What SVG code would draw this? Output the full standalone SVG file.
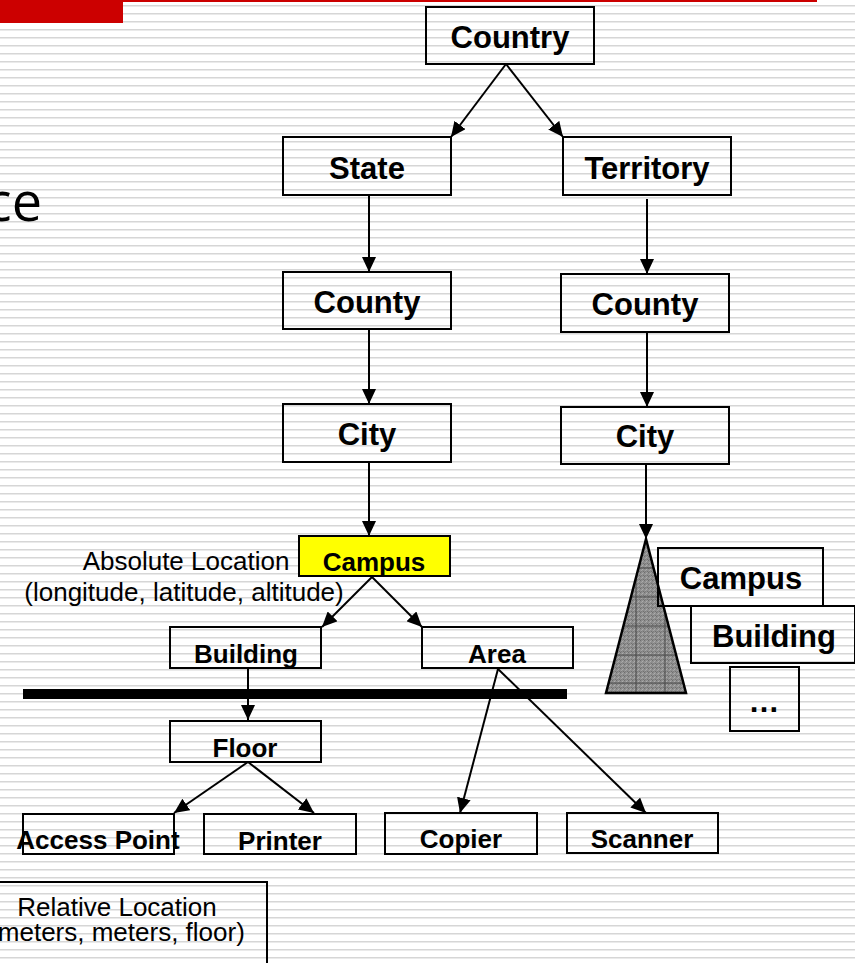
<svg xmlns="http://www.w3.org/2000/svg" width="855" height="963" viewBox="0 0 855 963">
  <defs>
    <!-- striped slide background -->
    <pattern id="stripes" patternUnits="userSpaceOnUse" x="0" y="0" width="8" height="8">
      <rect x="0" y="0" width="8" height="8" fill="#ffffff"/>
      <rect x="0" y="5" width="8" height="1" fill="#d6d6d6"/>
      <rect x="0" y="6" width="8" height="1" fill="#eaeaea"/>
    </pattern>
    <!-- stippled grey fill for the cone -->
    <pattern id="stipple" patternUnits="userSpaceOnUse" x="0" y="0" width="4" height="4">
      <rect width="4" height="4" fill="#8e8e8e"/>
      <rect x="0" y="0" width="1" height="1" fill="#6e6e6e"/>
      <rect x="2" y="1" width="1" height="1" fill="#adadad"/>
      <rect x="1" y="2" width="1" height="1" fill="#a4a4a4"/>
      <rect x="3" y="3" width="1" height="1" fill="#707070"/>
      <rect x="3" y="0" width="1" height="1" fill="#9c9c9c"/>
      <rect x="1" y="3" width="1" height="1" fill="#7c7c7c"/>
    </pattern>
    <clipPath id="coneClip">
      <polygon points="646,539 606,693 686,693"/>
    </clipPath>
    <marker id="arrow" markerUnits="userSpaceOnUse" markerWidth="15" markerHeight="14" refX="15" refY="7" orient="auto">
      <path d="M0,0 L15,7 L0,14 Z" fill="#000"/>
    </marker>
    <style>
      .box { fill: none; stroke: #000; stroke-width: 2; }
      .hl { fill: #ffff00; stroke: #000; stroke-width: 2; }
      .lbl { font-family: "Liberation Sans", Arial, sans-serif; font-weight: bold; text-anchor: middle; fill: #000; }
      .big { font-size: 31px; }
      .small { font-size: 26px; }
      .note { font-family: "Liberation Sans", Arial, sans-serif; font-size: 26px; text-anchor: middle; fill: #000; }
      .conn line { stroke: #000; stroke-width: 2; marker-end: url(#arrow); }
    </style>
  </defs>

  <!-- background and slide decoration -->
  <rect x="0" y="0" width="855" height="963" fill="url(#stripes)"/>
  <rect x="0" y="0" width="123" height="23" fill="#cc0000"/>
  <rect x="123" y="0" width="694" height="2" fill="#cc0000"/>
  <text x="42" y="221" font-family="Open Sans, sans-serif" font-size="54" text-anchor="end" fill="#000">ce</text>

  <!-- divider between absolute and relative levels -->
  <rect x="23" y="689" width="544" height="10" fill="#000"/>

  <!-- cone standing for the lower levels of the territory branch -->
  <g id="cone">
    <polygon points="646,539 606,693 686,693" fill="url(#stipple)"/>
    <g clip-path="url(#coneClip)" stroke="#4a4a4a" stroke-width="1">
      <line x1="600" y1="568" x2="690" y2="568"/>
      <line x1="600" y1="597" x2="690" y2="597"/>
      <line x1="600" y1="626" x2="690" y2="626"/>
      <line x1="600" y1="655" x2="690" y2="655"/>
      <line x1="600" y1="683" x2="690" y2="683"/>
      <line x1="636" y1="539" x2="636" y2="693"/>
      <line x1="665" y1="539" x2="665" y2="693"/>
    </g>
    <polygon points="646,539 606,693 686,693" fill="none" stroke="#000" stroke-width="2.5" stroke-linejoin="miter"/>
  </g>

  <!-- connectors -->
  <g id="connectors" class="conn">
    <line x1="506" y1="64" x2="451" y2="137"/>
    <line x1="506" y1="64" x2="563" y2="137"/>
    <line x1="369" y1="195" x2="369" y2="272"/>
    <line x1="369" y1="329" x2="369" y2="404"/>
    <line x1="369" y1="462" x2="369" y2="536"/>
    <line x1="647" y1="199" x2="647" y2="274"/>
    <line x1="647" y1="332" x2="647" y2="407"/>
    <line x1="646" y1="464" x2="646" y2="539"/>
    <line x1="372" y1="577" x2="322" y2="627"/>
    <line x1="372" y1="577" x2="422" y2="627"/>
    <line x1="248" y1="668" x2="248" y2="720"/>
    <line x1="248" y1="762" x2="174" y2="813"/>
    <line x1="248" y1="762" x2="314" y2="813"/>
    <line x1="498" y1="669" x2="460" y2="813"/>
    <line x1="498" y1="669" x2="646" y2="813"/>
  </g>

  <!-- upper hierarchy -->
  <g id="country"><rect class="box" x="426" y="7" width="168" height="57"/><text class="lbl big" x="510" y="48">Country</text></g>
  <g id="state"><rect class="box" x="283" y="137" width="168" height="58"/><text class="lbl big" x="367" y="179">State</text></g>
  <g id="territory"><rect class="box" x="563" y="137" width="168" height="58"/><text class="lbl big" x="647" y="179">Territory</text></g>
  <g id="county-state"><rect class="box" x="283" y="272" width="168" height="57"/><text class="lbl big" x="367" y="313">County</text></g>
  <g id="county-territory"><rect class="box" x="561" y="274" width="168" height="58"/><text class="lbl big" x="645" y="315">County</text></g>
  <g id="city-state"><rect class="box" x="283" y="404" width="168" height="58"/><text class="lbl big" x="367" y="445">City</text></g>
  <g id="city-territory"><rect class="box" x="561" y="407" width="168" height="57"/><text class="lbl big" x="645" y="447">City</text></g>

  <!-- campus level with its absolute location -->
  <g id="campus"><rect class="hl" x="299" y="536" width="151" height="40"/><text class="lbl small" x="374" y="571">Campus</text></g>
  <g id="absolute-location">
    <text class="note" x="186" y="570">Absolute Location</text>
    <text class="note" x="184" y="601">(longitude, latitude, altitude)</text>
  </g>

  <!-- lower hierarchy -->
  <g id="building"><rect class="box" x="170" y="627" width="151" height="41"/><text class="lbl small" x="246" y="663">Building</text></g>
  <g id="area"><rect class="box" x="422" y="627" width="151" height="41"/><text class="lbl small" x="497" y="663">Area</text></g>
  <g id="floor"><rect class="box" x="170" y="721" width="151" height="41"/><text class="lbl small" x="245" y="757">Floor</text></g>
  <g id="access-point"><rect class="box" x="23" y="814" width="151" height="40"/><text class="lbl small" x="98" y="849">Access Point</text></g>
  <g id="printer"><rect class="box" x="204" y="814" width="152" height="40"/><text class="lbl small" x="280" y="850">Printer</text></g>
  <g id="copier"><rect class="box" x="385" y="813" width="152" height="41"/><text class="lbl small" x="461" y="848">Copier</text></g>
  <g id="scanner"><rect class="box" x="567" y="813" width="151" height="40"/><text class="lbl small" x="642" y="848">Scanner</text></g>

  <!-- levels stacked beside the cone -->
  <g id="campus-stack"><rect class="box" x="658" y="548" width="165" height="58"/><text class="lbl big" x="741" y="589">Campus</text></g>
  <g id="building-stack"><rect class="box" x="691" y="606" width="164" height="57"/><text class="lbl big" x="774" y="647">Building</text></g>
  <g id="more-stack"><rect class="box" x="730" y="667" width="69" height="64"/><text class="lbl big" x="764" y="712">…</text></g>

  <!-- relative location note -->
  <g id="relative-location">
    <rect class="box" x="-33" y="882" width="300" height="100"/>
    <text class="note" x="117" y="916">Relative Location</text>
    <text class="note" x="117" y="941">(meters, meters, floor)</text>
  </g>
</svg>
